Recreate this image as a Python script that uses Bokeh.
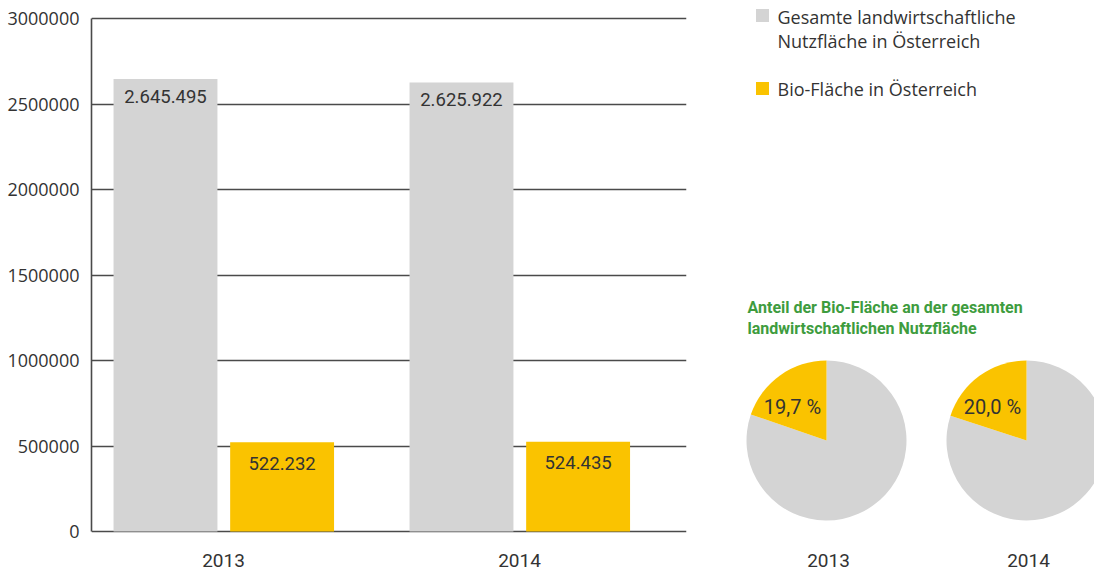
import math
from bokeh.plotting import figure
from bokeh.layouts import row
from bokeh.models import Range1d, FixedTicker, PrintfTickFormatter, ColumnDataSource
from bokeh.core.properties import value
from bokeh.embed import file_html
from bokeh.resources import INLINE

# ---------------- data ----------------
years = ["2013", "2014"]
gesamt = [2645495, 2625922]
bio = [522232, 524435]
y_ticks = [0, 500000, 1000000, 1500000, 2000000, 2500000, 3000000]
legend_lines = ["Gesamte landwirtschaftliche", "Nutzfläche in Österreich", "Bio-Fläche in Österreich"]
pie_title = ["Anteil der Bio-Fläche an der gesamten", "landwirtschaftlichen Nutzfläche"]

GREY = "#d4d4d4"
YELLOW = "#fac300"
TXT = "#333333"
GRID = "#4a4a4a"


def fmt_de(v):
    return f"{v:,}".replace(",", ".")


shares = [b / g for b, g in zip(bio, gesamt)]
share_labels = [f"{s*100:.1f}".replace(".", ",") + " %" for s in shares]

# ---------------- bar chart ----------------
W1, H = 708, 572
TOP_PX, ZERO_PX = 18, 531           # figure-pixel rows of 3,000,000 and 0
span = 3000000
ppu = (ZERO_PX - TOP_PX) / span
y_start = -(H - ZERO_PX) / ppu
y_end = span + TOP_PX / ppu

group_px = 296.0
frame_left_to_first = 132.0
frame_w = 595.0
x_start = -frame_left_to_first / group_px
x_end = x_start + frame_w / group_px

p = figure(width=W1, height=H, x_range=Range1d(x_start, x_end), y_range=Range1d(y_start, y_end),
           output_backend="svg", toolbar_location=None, x_axis_location=None,
           min_border_left=91, min_border_right=22, min_border_top=0, min_border_bottom=0)
p.outline_line_color = None
p.background_fill_color = "white"
p.xgrid.visible = False
p.ygrid.ticker = FixedTicker(ticks=y_ticks)
p.ygrid.grid_line_color = GRID
p.ygrid.grid_line_width = 1.6

ya = p.yaxis[0]
ya.ticker = FixedTicker(ticks=y_ticks)
ya.formatter = PrintfTickFormatter(format="%d")
ya.bounds = (0, span)
ya.major_tick_line_color = None
ya.minor_tick_line_color = None
ya.axis_line_color = GRID
ya.axis_line_width = 1.6
ya.major_label_text_font = "Open Sans"
ya.major_label_text_font_size = "18px"
ya.major_label_text_color = TXT
ya.major_label_standoff = 6

idx = list(range(len(years)))
dodge = 0.196
bw = 0.351
src = ColumnDataSource(dict(
    xg=[i - dodge for i in idx], xb=[i + dodge + 0.002 for i in idx],
    gesamt=gesamt, bio=bio,
    lg=[fmt_de(v) for v in gesamt], lb=[fmt_de(v) for v in bio],
    xc=idx, y0=[0] * len(idx), years=years))

p.vbar(x="xg", top="gesamt", bottom=0, width=bw, source=src, fill_color=GREY, line_color=None)
p.vbar(x="xb", top="bio", bottom=0, width=bw, source=src, fill_color=YELLOW, line_color=None)

p.text(x="xg", y="gesamt", text="lg", source=src, y_offset=17, text_align="center",
       text_baseline="middle", text_font=value("Roboto"), text_font_size="18.5px", text_color=TXT)
p.text(x="xb", y="bio", text="lb", source=src, y_offset=21, text_align="center",
       text_baseline="middle", text_font=value("Roboto"), text_font_size="18.5px", text_color=TXT)
p.text(x="xc", y="y0", text="years", source=src, y_offset=29, text_align="center",
       text_baseline="middle", text_font=value("Roboto"), text_font_size="19px", text_color=TXT)

# ---------------- right panel: legend + pies ----------------
W2 = 386
q = figure(width=W2, height=H, x_range=Range1d(0, W2), y_range=Range1d(0, H),
           output_backend="svg", toolbar_location=None, x_axis_location=None, y_axis_location=None,
           min_border_left=0, min_border_right=0, min_border_top=0, min_border_bottom=0)
q.outline_line_color = None
q.xgrid.visible = False
q.ygrid.visible = False

# legend
q.scatter(x=[54, 54], y=[557, 484], marker="square", size=13, fill_color=[GREY, YELLOW], line_color=None)
q.text(x=[69, 69, 69], y=[556, 532, 484], text=legend_lines, text_baseline="middle",
       text_font=value("Open Sans"), text_font_size="18px", text_color=TXT)

# pie title
q.text(x=[39, 39], y=[265, 244], text=pie_title, text_baseline="middle",
       text_font=value("Roboto"), text_font_style="bold", text_font_size="16px", text_color="#3e9c3e")

# pies
cx = [118, 318]
cy = [132, 132]
R = 80
start_y = [math.pi / 2] * 2
end_y = [math.pi / 2 + s * 2 * math.pi for s in shares]
end_g = [math.pi / 2 + 2 * math.pi] * 2
psrc = ColumnDataSource(dict(cx=cx, cy=cy, sy=start_y, ey=end_y, eg=end_g,
                             lab=share_labels, years=years, ly=[12, 12]))
q.wedge(x="cx", y="cy", radius=R, start_angle="ey", end_angle="eg", direction="anticlock",
        source=psrc, fill_color=GREY, line_color=None)
q.wedge(x="cx", y="cy", radius=R, start_angle="sy", end_angle="ey", direction="anticlock",
        source=psrc, fill_color=YELLOW, line_color=None)
q.text(x="cx", y="cy", text="lab", source=psrc, x_offset=-34, y_offset=-34, text_align="center",
       text_baseline="middle", text_font=value("Roboto"), text_font_size="20px", text_color=TXT)
q.text(x="cx", y="ly", text="years", source=psrc, x_offset=2, text_align="center",
       text_baseline="middle", text_font=value("Roboto"), text_font_size="19px", text_color=TXT)

layout = row(p, q)
open("out.html", "w").write(file_html(layout, INLINE))
